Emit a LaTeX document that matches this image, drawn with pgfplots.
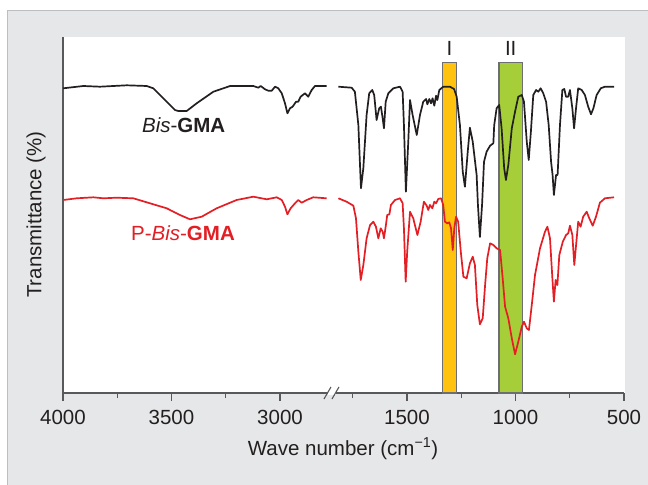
\documentclass[border=0pt]{standalone}
\usepackage{fontspec}
\setmainfont{Liberation Sans}
\usepackage{pgfplots}
\usepackage{pgfplotstable}
\pgfplotsset{compat=1.18}
\definecolor{panel}{HTML}{E6E7E8}
\definecolor{panelborder}{HTML}{BCBEC0}
\definecolor{axisgrey}{HTML}{58595B}
\definecolor{txt}{HTML}{231F20}
\definecolor{curveblack}{HTML}{231F20}
\definecolor{curvered}{HTML}{E31E24}
\definecolor{bandorange}{HTML}{FFC20E}
\definecolor{bandgreen}{HTML}{A6CE39}
\definecolor{bandedge}{HTML}{6D6E71}

% left segment (real wavenumbers, plotted shifted by -915 across the axis break)
\pgfplotstableread{
w t
3999 306.7
3906 309
3830 308.3
3706 309.7
3614 309
3584 306.7
3538 296.7
3484 285
3469 284
3430 284
3384 291.7
3307 303.3
3230 309
3123 309
3100 307.3
3089 309
3069 305.7
3054 304.3
3038 304.3
3023 308.3
3008 306.7
2992 301.7
2977 291.7
2966 281.7
2954 286.7
2942 288.3
2926 293.3
2916 293.3
2905 298.3
2885 301.7
2870 298.3
2854 305
2839 309
2785 309
}\blackleft

\pgfplotstableread{
w t
1816 308.3
1755 307.3
1740 303.3
1724 270
1712 206.7
1701 227
1686 280
1674 301.7
1660 305
1651 300
1640 275
1628 286.7
1620 288.3
1612 276.7
1606 266.7
1598 293.3
1586 301.7
1563 306.7
1532 308.3
1520 303.3
1514 270
1505 203.3
1494 253.3
1486 295
1474 280
1455 260
1440 280
1425 293.3
1412 296
1406 290.7
1397 296
1389 291.7
1382 296.7
1374 289.3
1366 299.3
1360 295
1351 305
1333 308.3
1302 308.3
1283 306
1271 298.3
1256 270
1243 223.3
1233 208.3
1220 243.3
1210 267.3
1197 253.3
1179 220
1173 190
1164 158
1154 190
1145 233.3
1133 243.3
1117 249.3
1102 251.7
1098 270
1087 286.7
1075 290
1064 266.7
1052 226.7
1044 215
1033 230
1017 266.7
1002 283.3
987 298.3
971 300
961 293.3
948 253.3
939 235
929 263.3
918 300
905 305
895 303.3
884 306.7
872 301.7
859 293.3
847 270
836 233.3
829 220
823 200
813 220
806 220
795 270
784 305
775 306
767 298.3
757 298.3
749 305
738 286.7
730 266.7
721 286.7
711 306.7
695 305
680 300
665 288.3
652 280.7
641 286.7
626 300
607 306.7
588 308.3
546 308.3
}\blackright

\pgfplotstableread{
w t
3999 195
3937 196.7
3860 197.7
3814 196.7
3753 197.3
3676 196.7
3599 191.7
3522 186.7
3461 180
3415 175.7
3361 178.3
3292 186.7
3200 195
3123 198.3
3061 195.7
3015 197.7
2992 195
2977 188.3
2966 180.7
2951 186.7
2931 191.7
2916 195
2900 192.3
2877 195
2847 197.7
2785 196.7
}\redleft

\pgfplotstableread{
w t
1816 196.7
1778 193.3
1747 189.3
1735 176.7
1724 143.3
1713 115
1701 130
1686 156.7
1670 170
1655 173.3
1643 168.3
1632 156.7
1621 166.7
1612 163.3
1606 156.7
1597 170
1591 180
1581 180.7
1574 190
1555 195
1532 196.7
1520 191.7
1514 166.7
1506 113.3
1499 143.3
1486 183.3
1471 176.7
1452 160
1437 173.3
1422 193.3
1409 189.3
1402 185
1394 190
1383 186.7
1374 193.3
1366 191.7
1356 196
1343 196.7
1333 190
1325 173.3
1314 171.7
1305 172.7
1297 166.7
1289 145
1282 166.7
1274 178.3
1264 173.3
1252 143.3
1240 118.3
1225 116.7
1210 131.7
1197 138.3
1187 130
1176 90
1164 70.7
1151 76.7
1140 110
1130 136.7
1117 151.7
1102 150
1087 146.7
1071 145
1059 116.7
1048 88.3
1033 76.7
1017 56.7
1002 40.7
987 53.3
971 68.3
961 73.3
948 66.7
938 65
925 90
910 120
887 146.7
864 163.3
853 168.3
841 156.7
830 116.7
823 93.3
815 115
807 110
798 140
782 153.3
767 160
757 161.7
749 169.3
738 160
729 130
718 156.7
711 173.3
700 168.3
688 178.3
672 183.3
660 176.7
644 169.3
629 178.3
611 192.3
588 196.7
546 197.7
}\redright

\begin{document}
\fontsize{20.5bp}{24bp}\selectfont
\begin{tikzpicture}
\useasboundingbox (0bp,0bp) rectangle (648bp,-485bp);
\fill[panel] (7.5bp,-10.5bp) rectangle (648bp,-485bp);
\draw[panelborder, line width=1.2bp] (7.5bp,-485bp) -- (7.5bp,-10.5bp) -- (648bp,-10.5bp);
\fill[white] (62bp,-37bp) rectangle (625bp,-393bp);
\begin{axis}[
  at={(63bp,-393bp)}, anchor=south west,
  scale only axis, width=561bp, height=356bp,
  xmin=500, xmax=3085, ymin=2, ymax=358, x dir=reverse,
  axis x line*=bottom, axis y line*=left,
  axis line style={axisgrey, line width=1.1bp, -},
  ytick=\empty,
  xtick={500,1000,1500,2085,2585,3085},
  xticklabels={500,1000,1500,3000,3500,4000},
  minor xtick={750,1250,1750,2335,2835},
  tick align=outside, major tick length=8bp, minor tick length=5bp,
  every tick/.style={axisgrey, line width=1.1bp},
  /pgf/number format/assume math mode=true,
  xticklabel style={text=txt, inner sep=0pt, anchor=north, yshift=-9bp},
  clip=false,
]
\addplot[fill=bandorange, draw=bandedge, line width=1.1bp] coordinates {(1271,2) (1271,332.3) (1337,332.3) (1337,2)} -- cycle;
\addplot[fill=bandgreen, draw=bandedge, line width=1.1bp] coordinates {(969,2) (969,332.3) (1076,332.3) (1076,2)} -- cycle;
\addplot[curveblack, line width=1.7bp, line join=round] table[x expr=\thisrow{w}-915, y=t] {\blackleft};
\addplot[curveblack, line width=1.7bp, line join=round] table[x=w, y=t] {\blackright};
\addplot[curvered, line width=1.7bp, line join=round] table[x expr=\thisrow{w}-915, y=t] {\redleft};
\addplot[curvered, line width=1.7bp, line join=round] table[x=w, y=t] {\redright};
% axis break
\fill[white] ([xshift=-5bp,yshift=-2bp]axis cs:1841,2) rectangle ([xshift=3bp,yshift=2bp]axis cs:1841,2);
\draw[axisgrey, line width=1.1bp] ([xshift=-9bp,yshift=-6bp]axis cs:1841,2) -- ([xshift=-2bp,yshift=6bp]axis cs:1841,2);
\draw[axisgrey, line width=1.1bp] ([xshift=-1bp,yshift=-6bp]axis cs:1841,2) -- ([xshift=6bp,yshift=6bp]axis cs:1841,2);
% band labels
\node[anchor=base, text=txt, inner sep=0pt] at (axis cs:1304,339.3) {I};
\node[anchor=base, text=txt, inner sep=0pt] at (axis cs:1022,339.3) {II};
% series labels
\node[anchor=base, text=curveblack, inner sep=0pt] at (axis cs:2529,262.7) {\textit{Bis}-\textbf{GMA}};
\node[anchor=base, text=curvered, inner sep=0pt] at (axis cs:2532,155) {P-\textit{Bis}-\textbf{GMA}};
\end{axis}
\node[anchor=base, text=txt, inner sep=0pt] at (343bp,-455bp) {Wave number (cm\textsuperscript{−1})};
\node[rotate=90, text=txt, inner sep=0pt] at (36bp,-214.5bp) {Transmittance (\%)};
\end{tikzpicture}
\end{document}
